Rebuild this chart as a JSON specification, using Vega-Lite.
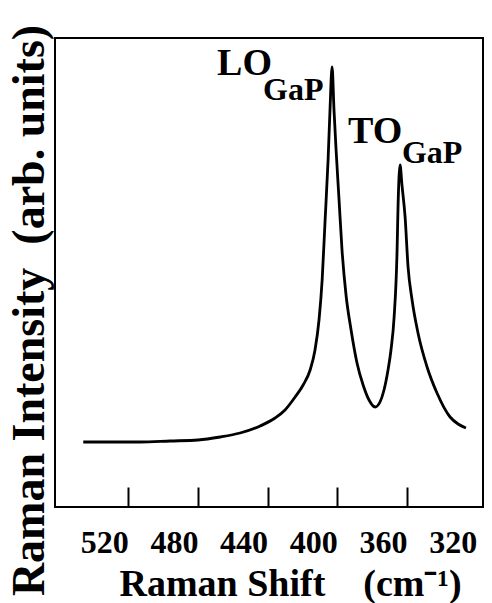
{
  "$schema": "https://vega.github.io/schema/vega-lite/v6.json",
  "width": 428,
  "height": 469,
  "autosize": {"type": "none"},
  "padding": {"left": 55, "top": 38, "right": 9, "bottom": 96},
  "background": "white",
  "config": {
    "view": {"stroke": "black", "strokeWidth": 2},
    "font": "Liberation Serif"
  },
  "datasets": {
    "spectrum": [
      {"shift": 545.8, "intensity": 65},
      {"shift": 530.3, "intensity": 65},
      {"shift": 513.1, "intensity": 65},
      {"shift": 495.9, "intensity": 66},
      {"shift": 479.9, "intensity": 67},
      {"shift": 467.2, "intensity": 70},
      {"shift": 455.8, "intensity": 74},
      {"shift": 444.3, "intensity": 81},
      {"shift": 435.7, "intensity": 89},
      {"shift": 430.0, "intensity": 97},
      {"shift": 424.2, "intensity": 110},
      {"shift": 419.6, "intensity": 122},
      {"shift": 415.6, "intensity": 137},
      {"shift": 412.8, "intensity": 157},
      {"shift": 410.5, "intensity": 187},
      {"shift": 408.7, "intensity": 227},
      {"shift": 407.0, "intensity": 287},
      {"shift": 405.3, "intensity": 347},
      {"shift": 404.2, "intensity": 397},
      {"shift": 403.0, "intensity": 440},
      {"shift": 401.9, "intensity": 397},
      {"shift": 400.7, "intensity": 357},
      {"shift": 399.0, "intensity": 307},
      {"shift": 397.3, "intensity": 257},
      {"shift": 395.0, "intensity": 212},
      {"shift": 392.1, "intensity": 177},
      {"shift": 388.7, "intensity": 144},
      {"shift": 385.2, "intensity": 122},
      {"shift": 381.8, "intensity": 107},
      {"shift": 378.3, "intensity": 100},
      {"shift": 375.5, "intensity": 105},
      {"shift": 373.2, "intensity": 117},
      {"shift": 370.9, "intensity": 137},
      {"shift": 369.2, "intensity": 157},
      {"shift": 367.4, "intensity": 190},
      {"shift": 365.7, "intensity": 257},
      {"shift": 365.2, "intensity": 297},
      {"shift": 364.0, "intensity": 342},
      {"shift": 362.9, "intensity": 322},
      {"shift": 361.1, "intensity": 290},
      {"shift": 359.4, "intensity": 240},
      {"shift": 357.1, "intensity": 207},
      {"shift": 353.7, "intensity": 174},
      {"shift": 348.5, "intensity": 140},
      {"shift": 342.8, "intensity": 114},
      {"shift": 335.3, "intensity": 90},
      {"shift": 330.7, "intensity": 83},
      {"shift": 326.2, "intensity": 79}
    ],
    "labels": [
      {"label": "LO", "kind": "main", "shift": 469.0, "intensity": 432},
      {"label": "GaP", "kind": "sub", "shift": 442.6, "intensity": 407},
      {"label": "TO", "kind": "main", "shift": 393.8, "intensity": 364},
      {"label": "GaP", "kind": "sub", "shift": 362.9, "intensity": 344}
    ]
  },
  "layer": [
    {
      "data": {"name": "spectrum"},
      "mark": {"type": "line", "color": "black", "strokeWidth": 2.8, "interpolate": "monotone"},
      "encoding": {
        "order": {"field": "shift", "type": "quantitative", "sort": "descending"},
        "x": {
          "field": "shift",
          "type": "quantitative",
          "scale": {"domain": [316.4, 562], "reverse": true, "nice": false, "zero": false},
          "axis": {
            "values": [520, 480, 440, 400, 360, 320],
            "format": "d",
            "title": "Raman Shift\u00a0\u00a0\u00a0\u00a0(cm\u207b\u00b9)",
            "grid": false,
            "domain": false,
            "tickSize": -20,
            "tickWidth": 2,
            "tickColor": {"condition": {"test": "datum.value == 320", "value": "transparent"}, "value": "black"},
            "labelFont": "Liberation Serif",
            "labelFontWeight": "bold",
            "labelFontSize": 32,
            "labelColor": "black",
            "labelAlign": "right",
            "labelDx": 4,
            "labelBaseline": "alphabetic",
            "labelPadding": 65,
            "labelFlush": false,
            "labelOverlap": false,
            "titleFont": "Liberation Serif",
            "titleFontWeight": "bold",
            "titleFontSize": 38,
            "titleColor": "black",
            "titleX": 235,
            "titleY": 88,
            "titleAlign": "center",
            "titleBaseline": "alphabetic"
          }
        },
        "y": {
          "field": "intensity",
          "type": "quantitative",
          "scale": {"domain": [0, 469], "nice": false, "zero": false},
          "axis": {
            "title": "Raman Intensity\u00a0\u00a0(arb. units)",
            "labels": false,
            "ticks": false,
            "domain": false,
            "grid": false,
            "titleFont": "Liberation Serif",
            "titleFontWeight": "bold",
            "titleFontSize": 46,
            "titleColor": "black",
            "titleAngle": -90,
            "titleX": -12,
            "titleY": 272,
            "titleAlign": "center",
            "titleBaseline": "alphabetic"
          }
        }
      }
    },
    {
      "data": {"name": "labels"},
      "transform": [{"filter": "datum.kind == 'main'"}],
      "mark": {"type": "text", "align": "left", "baseline": "alphabetic", "font": "Liberation Serif", "fontWeight": "bold", "fontSize": 38, "color": "black"},
      "encoding": {
        "x": {"field": "shift", "type": "quantitative"},
        "y": {"field": "intensity", "type": "quantitative"},
        "text": {"field": "label"}
      }
    },
    {
      "data": {"name": "labels"},
      "transform": [{"filter": "datum.kind == 'sub'"}],
      "mark": {"type": "text", "align": "left", "baseline": "alphabetic", "font": "Liberation Serif", "fontWeight": "bold", "fontSize": 32, "color": "black"},
      "encoding": {
        "x": {"field": "shift", "type": "quantitative"},
        "y": {"field": "intensity", "type": "quantitative"},
        "text": {"field": "label"}
      }
    }
  ]
}
